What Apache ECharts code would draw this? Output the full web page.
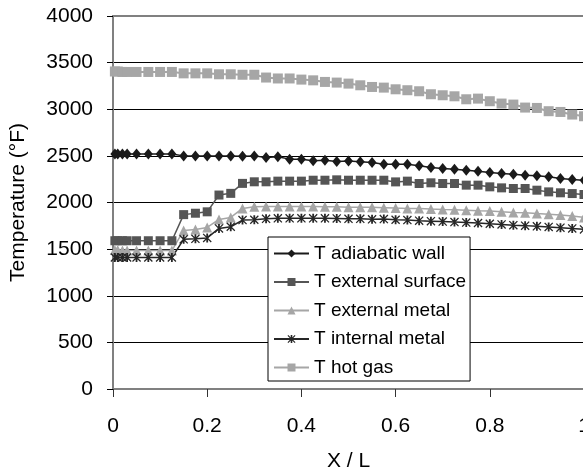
<!DOCTYPE html>
<html>
<head>
<meta charset="utf-8">
<script src="https://cdn.jsdelivr.net/npm/echarts@6/dist/echarts.min.js"></script>
<style>
  html, body { margin: 0; padding: 0; background: #fff; }
  #chart { width: 583px; height: 471px; }
</style>
</head>
<body>
<div id="chart"></div>
<script>
// X / L positions of the computed points
var xs = [0.004, 0.01, 0.02, 0.03, 0.05, 0.075, 0.1, 0.125, 0.15, 0.175, 0.2, 0.225, 0.25, 0.275, 0.3,
  0.325, 0.35, 0.375, 0.4, 0.425, 0.45, 0.475, 0.5, 0.525, 0.55, 0.575, 0.6, 0.625, 0.65, 0.675, 0.7,
  0.725, 0.75, 0.775, 0.8, 0.825, 0.85, 0.875, 0.9, 0.925, 0.95, 0.975, 1.0];

var adiabaticWall = [2520, 2520, 2520, 2520, 2520, 2520, 2520, 2520, 2500, 2500, 2500, 2500, 2500, 2495, 2500,
  2482, 2490, 2465, 2465, 2448, 2454, 2440, 2445, 2436, 2429, 2411, 2411, 2411, 2393, 2375, 2364,
  2357, 2346, 2336, 2322, 2311, 2304, 2293, 2286, 2275, 2257, 2247, 2239];

var externalSurface = [1590, 1590, 1590, 1590, 1590, 1590, 1590, 1590, 1870, 1885, 1900, 2080, 2098, 2205, 2222,
  2222, 2229, 2229, 2229, 2239, 2239, 2243, 2239, 2239, 2239, 2239, 2221, 2229, 2204, 2211, 2204,
  2204, 2186, 2186, 2168, 2157, 2150, 2150, 2132, 2114, 2104, 2096, 2086];

var externalMetal = [1490, 1490, 1485, 1485, 1485, 1485, 1485, 1485, 1700, 1711, 1732, 1818, 1840, 1936, 1955,
  1958, 1958, 1958, 1958, 1958, 1955, 1954, 1950, 1950, 1948, 1945, 1940, 1936, 1936, 1930, 1925,
  1922, 1918, 1911, 1908, 1900, 1893, 1890, 1882, 1875, 1865, 1855, 1840];

var internalMetal = [1410, 1410, 1410, 1410, 1410, 1410, 1410, 1410, 1605, 1610, 1620, 1722, 1740, 1811, 1815,
  1825, 1830, 1830, 1830, 1830, 1830, 1829, 1825, 1825, 1820, 1822, 1815, 1812, 1805, 1800, 1795,
  1790, 1785, 1780, 1772, 1765, 1757, 1752, 1745, 1738, 1730, 1722, 1711];

var hotGas = [3405, 3405, 3400, 3400, 3400, 3400, 3400, 3400, 3385, 3385, 3385, 3375, 3375, 3370, 3370,
  3340, 3330, 3330, 3318, 3310, 3293, 3286, 3275, 3257, 3239, 3232, 3214, 3204, 3193, 3161, 3150,
  3139, 3107, 3114, 3086, 3061, 3050, 3018, 3014, 2979, 2971, 2943, 2925];

var seriesNames = ['T adiabatic wall', 'T external surface', 'T external metal', 'T internal metal', 'T hot gas'];

// asterisk marker
var starPath = 'path://M4,0L6,0L6,10L4,10Z M0,1L1,0L10,9L9,10Z M9,0L10,1L1,10L0,9Z';

function pairs(vals) {
  return xs.map(function (x, i) { return [x, vals[i]]; });
}

function mkSeries(name, vals, symbol, size, color, width) {
  return {
    name: name,
    type: 'line',
    data: pairs(vals),
    symbol: symbol,
    symbolSize: size,
    showAllSymbol: true,
    animation: false,
    itemStyle: { color: color },
    lineStyle: { color: color, width: width }
  };
}

var chart = echarts.init(document.getElementById('chart'));
var font = '"Liberation Sans", Arial, sans-serif';

var option = {
  backgroundColor: '#fff',
  animation: false,
  textStyle: { fontFamily: font },
  grid: {
    left: 113, top: 16, width: 471, height: 373,
    outerBoundsMode: 'none',
    containLabel: false,
    show: true, borderColor: '#808080', borderWidth: 2
  },
  xAxis: {
    type: 'value', min: 0, max: 1, interval: 0.2,
    name: 'X / L', nameLocation: 'middle', nameGap: 62,
    nameTextStyle: { fontSize: 21, color: '#000', fontFamily: font },
    axisLine: { lineStyle: { color: '#808080', width: 2 } },
    axisTick: { show: true, inside: false, length: 8, lineStyle: { color: '#333' } },
    axisLabel: { fontSize: 21, color: '#000', margin: 27, fontFamily: font,
      formatter: function (v) { return String(v); } },
    splitLine: { show: false }
  },
  yAxis: {
    type: 'value', min: 0, max: 4000, interval: 500,
    name: 'Temperature (°F)', nameLocation: 'middle', nameGap: 84,
    nameTextStyle: { fontSize: 21, color: '#000', fontFamily: font },
    axisLine: { show: true, lineStyle: { color: '#808080', width: 2 } },
    axisTick: { show: true, inside: false, length: 6, lineStyle: { color: '#000' } },
    axisLabel: { fontSize: 21, color: '#000', margin: 20, fontFamily: font,
      formatter: function (v) { return String(v); } },
    splitLine: { show: true, showMinLine: false, showMaxLine: false, lineStyle: { color: '#000', width: 1 } }
  },
  legend: {
    orient: 'vertical',
    left: 268, top: 237,
    data: seriesNames,
    backgroundColor: '#fff',
    borderColor: '#000', borderWidth: 1,
    padding: [7, 4, 4, 5],
    itemGap: 9.5,
    itemWidth: 35, itemHeight: 10,
    textStyle: { fontSize: 19, lineHeight: 19, color: '#000', fontFamily: font }
  },
  series: [
    mkSeries(seriesNames[4], hotGas, 'rect', 10, '#a6a6a6', 2),
    mkSeries(seriesNames[0], adiabaticWall, 'diamond', [9, 11], '#1a1a1a', 1.5),
    mkSeries(seriesNames[1], externalSurface, 'rect', 9, '#555555', 1.5),
    mkSeries(seriesNames[2], externalMetal, 'triangle', 10, '#a6a6a6', 1.5),
    mkSeries(seriesNames[3], internalMetal, starPath, 9, '#262626', 1.5)
  ]
};

chart.setOption(option);
</script>
</body>
</html>
